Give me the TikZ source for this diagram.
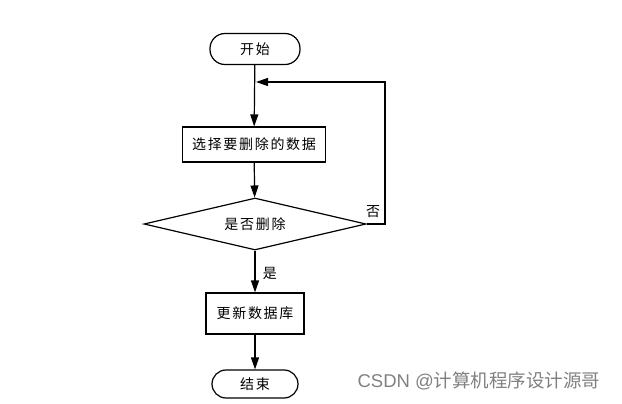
\documentclass[tikz,border=0pt]{standalone}
\usepackage{fontspec}
\setmainfont{Noto Sans CJK SC}[LetterSpace=12]
\newfontfamily\wmfont{Liberation Sans}
\newfontfamily\wmcjk{Noto Sans CJK SC}
\usetikzlibrary{shapes.geometric,arrows.meta}
\begin{document}
\begin{tikzpicture}[x=1pt,y=-1pt,
  line width=1.2pt,
  font=\fontsize{14}{16}\selectfont,
  term/.style={draw,rounded corners=15pt,minimum width=90pt,minimum height=31pt,inner sep=0pt},
  procbox/.style={draw,minimum height=35pt,inner sep=0pt},
  decision/.style={draw,diamond,aspect=4.27,minimum width=222pt,minimum height=52pt,inner sep=0pt},
  flow/.style={-{Triangle[length=12pt,width=8pt]}}]
\useasboundingbox (0,0) rectangle (622,404);
\node[term] (start) at (255,49) {开始};
\node[procbox,minimum width=143pt] (sel) at (254,144.5) {选择要删除的数据};
\node[decision] (dec) at (255,224) {是否删除};
\node[procbox,minimum width=98pt,minimum height=41pt] (upd) at (255,313.5) {更新数据库};
\node[term,minimum width=86pt,minimum height=28pt,rounded corners=14pt] (end) at (255,384) {结束};
\coordinate (j) at (256,82);
\coordinate (r1) at (385,224);
\coordinate (r2) at (385,82);
\draw[flow] (start) -- (sel);
\draw[flow] (sel) -- (dec);
\draw[flow] (dec) -- node[right,xshift=4pt,yshift=-2pt] {是} (upd);
\draw[flow] (upd) -- (end);
\draw[flow] (dec.east) -- (r1) -- (r2) -- (j);
\node (no) at (373,212) {否};
\node[text=gray,font=\wmfont\fontsize{18.5}{20}\selectfont,anchor=west,inner sep=0pt] (wm) at (357,381) {CSDN @{\wmcjk 计算机程序设计源哥}};
\end{tikzpicture}
\end{document}
